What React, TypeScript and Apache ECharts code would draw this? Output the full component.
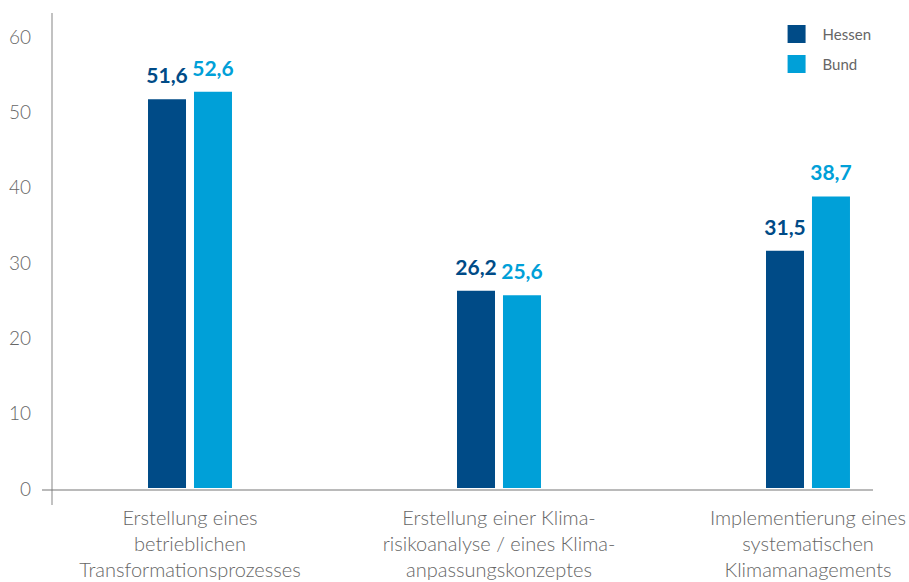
import React, { useEffect, useRef } from "react";
import * as echarts from "echarts";

const categories = [
  "Erstellung eines\nbetrieblichen\nTransformationsprozesses",
  "Erstellung einer Klima-\nrisikoanalyse / eines Klima-\nanpassungskonzeptes",
  "Implementierung eines\nsystematischen\nKlimamanagements",
];
const hessen = [51.6, 26.2, 31.5];
const bund = [52.6, 25.6, 38.7];
const yTicks = [0, 10, 20, 30, 40, 50, 60];

const DARK = "#004b87";
const LIGHT = "#00a0d8";
const GREY = "#666666";
const FONT = "Lato";

export default function App() {
  const ref = useRef<HTMLDivElement>(null);
  useEffect(() => {
    if (!ref.current) return;
    const chart = echarts.init(ref.current, undefined, { renderer: "svg" });
    const fmt = (p: any) => String(p.value).replace(".", ",");
    chart.setOption({
      animation: false,
      backgroundColor: "#ffffff",
      textStyle: { fontFamily: FONT },
      legend: {
        orient: "vertical",
        right: 33,
        top: 20,
        itemWidth: 18,
        itemHeight: 18,
        itemGap: 12,
        icon: "rect",
        textStyle: { color: GREY, fontSize: 15, fontFamily: FONT, padding: [0, 0, 0, 12] },
        data: ["Hessen", "Bund"],
      },
      grid: { left: 190, right: 101, top: 36, bottom: 92, containLabel: false },
      xAxis: {
        type: "category",
        data: categories,
        boundaryGap: false,
        axisLine: { show: false },
        axisTick: { show: false },
        axisLabel: {
          interval: 0,
          margin: 16,
          color: GREY,
          fontSize: 20,
          lineHeight: 26,
          fontFamily: FONT,
          fontWeight: 300,
          align: "center",
        },
      },
      yAxis: {
        type: "value",
        min: yTicks[0],
        max: yTicks[yTicks.length - 1],
        interval: 10,
        offset: 138,
        axisLine: { show: false },
        axisTick: { show: false },
        splitLine: { show: false },
        axisLabel: { color: GREY, fontSize: 19, fontFamily: FONT, fontWeight: 300, margin: 21 },
      },
      graphic: [
        { type: "line", shape: { x1: 52, y1: 13, x2: 52, y2: 505 }, style: { stroke: "#999", lineWidth: 1.2 } },
        { type: "line", shape: { x1: 42, y1: 490, x2: 873, y2: 490 }, style: { stroke: "#777", lineWidth: 1.2 } },
      ],
      series: [
        {
          name: "Hessen",
          type: "bar",
          data: hessen,
          barWidth: 38,
          barGap: "21%",
          itemStyle: { color: DARK },
          label: {
            show: true,
            position: "top",
            distance: 14,
            color: DARK,
            fontSize: 21,
            fontWeight: "bold",
            fontFamily: FONT,
            formatter: fmt,
          },
        },
        {
          name: "Bund",
          type: "bar",
          data: bund,
          barWidth: 38,
          itemStyle: { color: LIGHT },
          label: {
            show: true,
            position: "top",
            distance: 14,
            color: LIGHT,
            fontSize: 21,
            fontWeight: "bold",
            fontFamily: FONT,
            formatter: fmt,
          },
        },
      ],
    });
    return () => chart.dispose();
  }, []);
  return <div ref={ref} style={{ width: 909, height: 582, position: "absolute", left: 0, top: 0 }} />;
}
